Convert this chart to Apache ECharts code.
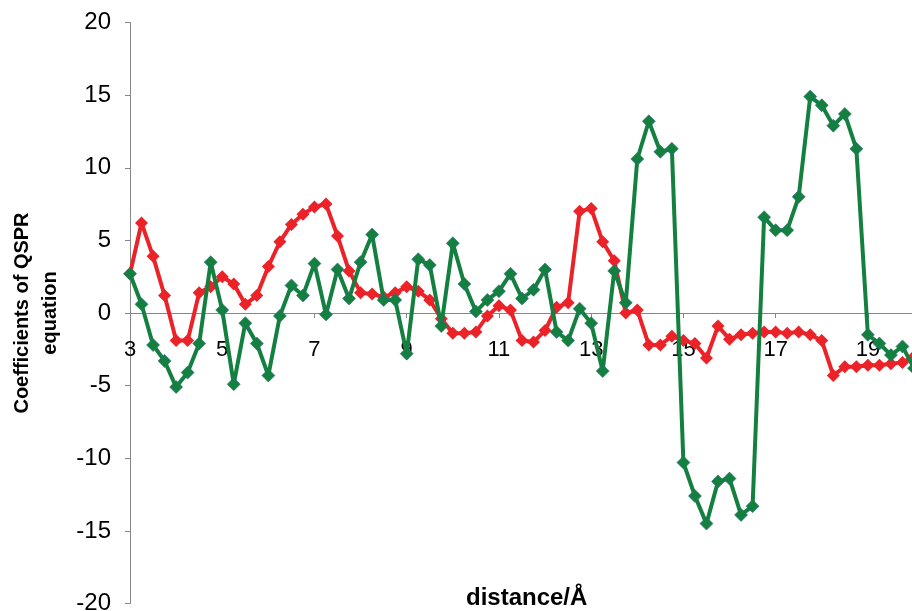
<!DOCTYPE html>
<html>
<head>
<meta charset="utf-8">
<script src="https://cdn.jsdelivr.net/npm/echarts@6/dist/echarts.min.js"></script>
<style>
  html, body { margin: 0; padding: 0; background: #ffffff; }
  #chart { width: 912px; height: 611px; }
</style>
</head>
<body>
<div id="chart"></div>
<script>
// Interatomic distance bins (Å), 0.25 Å apart
const distances = [
  3, 3.25, 3.5, 3.75, 4, 4.25, 4.5, 4.75, 5, 5.25, 5.5, 5.75,
  6, 6.25, 6.5, 6.75, 7, 7.25, 7.5, 7.75, 8, 8.25, 8.5, 8.75,
  9, 9.25, 9.5, 9.75, 10, 10.25, 10.5, 10.75, 11, 11.25, 11.5, 11.75,
  12, 12.25, 12.5, 12.75, 13, 13.25, 13.5, 13.75, 14, 14.25, 14.5, 14.75,
  15, 15.25, 15.5, 15.75, 16, 16.25, 16.5, 16.75, 17, 17.25, 17.5, 17.75,
  18, 18.25, 18.5, 18.75, 19, 19.25, 19.5, 19.75, 20
];

// QSPR coefficients, first model (green)
const coefGreen = [
  2.7, 0.6, -2.2, -3.3, -5.1, -4.1, -2.1, 3.5, 0.2, -4.9, -0.7, -2.1,
  -4.3, -0.2, 1.9, 1.2, 3.4, -0.1, 3.0, 1.0, 3.5, 5.4, 0.9, 0.9,
  -2.8, 3.7, 3.3, -0.9, 4.8, 2.0, 0.1, 0.9, 1.5, 2.7, 1.0, 1.6,
  3.0, -1.3, -1.9, 0.3, -0.7, -4.0, 2.9, 0.7, 10.6, 13.2, 11.1, 11.3,
  -10.3, -12.6, -14.5, -11.6, -11.4, -13.9, -13.3, 6.6, 5.7, 5.7, 8.0, 14.9,
  14.3, 12.9, 13.7, 11.3, -1.5, -2.1, -2.9, -2.3, -3.8
];

// QSPR coefficients, second model (red)
const coefRed = [
  2.7, 6.2, 3.9, 1.2, -1.9, -1.9, 1.4, 1.8, 2.5, 2.0, 0.6, 1.2,
  3.2, 4.9, 6.1, 6.8, 7.3, 7.5, 5.3, 2.9, 1.4, 1.3, 1.1, 1.4,
  1.8, 1.5, 0.9, -0.4, -1.4, -1.4, -1.3, -0.2, 0.5, 0.2, -1.9, -2.0,
  -1.2, 0.4, 0.7, 7.0, 7.2, 4.9, 3.6, 0.0, 0.2, -2.2, -2.2, -1.6,
  -1.9, -2.1, -3.1, -0.9, -1.8, -1.5, -1.4, -1.3, -1.3, -1.4, -1.3, -1.5,
  -1.9, -4.3, -3.7, -3.7, -3.6, -3.6, -3.5, -3.4, -3.0
];

const yTicks = { min: -20, max: 20, step: 5 };

const FONT = '"Liberation Sans", Arial, sans-serif';
const AXIS_GRAY = '#868686';
const GREEN = '#148040';
const RED = '#eb2329';

// plot box
const GRID = { left: 130, right: -2, top: 22.5, bottom: 7.5 };
const PLOT_H = 611 - GRID.top - GRID.bottom;
// lift the category axis from the bottom edge up to the y = 0 line
const ZERO_OFFSET = -PLOT_H * (0 - yTicks.min) / (yTicks.max - yTicks.min);

const chart = echarts.init(document.getElementById('chart'), null, { renderer: 'canvas' });

chart.setOption({
  animation: false,
  backgroundColor: '#ffffff',
  grid: {
    left: GRID.left, right: GRID.right, top: GRID.top, bottom: GRID.bottom,
    containLabel: false,
    outerBoundsMode: 'none'
  },
  // horizontal axis title sits at the foot of the chart, away from the zero line
  graphic: [
    {
      type: 'text',
      left: 466,
      top: 586,
      style: {
        text: 'distance/Å',
        fill: '#000000',
        font: 'bold 24px "Liberation Sans", Arial, sans-serif'
      }
    }
  ],
  xAxis: {
    type: 'category',
    data: distances,
    boundaryGap: false,
    position: 'bottom',
    offset: ZERO_OFFSET,
    axisLine: { onZero: false, lineStyle: { color: AXIS_GRAY, width: 1 } },
    axisTick: { show: true, interval: 7, length: 5, inside: false, lineStyle: { color: AXIS_GRAY } },
    axisLabel: {
      show: true,
      interval: 7,
      margin: 26,
      color: '#000000',
      fontFamily: FONT,
      fontSize: 22
    },
    splitLine: { show: false }
  },
  yAxis: {
    type: 'value',
    min: yTicks.min,
    max: yTicks.max,
    interval: yTicks.step,
    axisLine: { show: true, lineStyle: { color: AXIS_GRAY, width: 1 } },
    axisTick: { show: true, length: 5, lineStyle: { color: AXIS_GRAY } },
    axisLabel: {
      margin: 19,
      color: '#000000',
      fontFamily: FONT,
      fontSize: 24
    },
    splitLine: { show: false },
    name: 'Coefficients of QSPR\nequation',
    nameLocation: 'middle',
    nameRotate: 90,
    nameGap: 66,
    nameTextStyle: {
      color: '#000000', fontFamily: FONT, fontSize: 20, fontWeight: 'bold',
      lineHeight: 28, align: 'center'
    }
  },
  series: [
    {
      name: 'red',
      type: 'line',
      data: coefRed,
      symbol: 'diamond',
      symbolSize: 13,
      showAllSymbol: true,
      lineStyle: { color: RED, width: 4 },
      itemStyle: { color: RED, borderWidth: 0 },
      z: 2
    },
    {
      name: 'green',
      type: 'line',
      data: coefGreen,
      symbol: 'diamond',
      symbolSize: 13,
      showAllSymbol: true,
      lineStyle: { color: GREEN, width: 4 },
      itemStyle: { color: GREEN, borderColor: '#2c6f7c', borderWidth: 0.6 },
      z: 3
    }
  ]
});
</script>
</body>
</html>
